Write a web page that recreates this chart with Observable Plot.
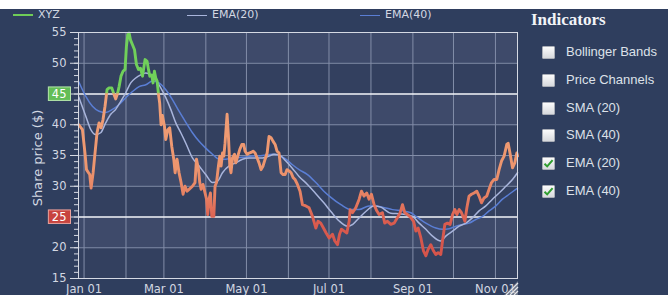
<!DOCTYPE html>
<html><head><meta charset="utf-8">
<script src="https://cdn.jsdelivr.net/npm/d3@7"></script>
<script src="https://cdn.jsdelivr.net/npm/@observablehq/plot@0.6"></script>
<style>
html,body{margin:0;padding:0;background:#ffffff;}
#wrap{position:relative;width:668px;height:295px;background:#2f3e5e;overflow:hidden;font-family:"DejaVu Sans",sans-serif;}
#topstrip{position:absolute;left:0;top:0;width:668px;height:9px;background:#ffffff;}
#chart{position:absolute;left:0;top:0;width:668px;height:295px;}
.leg{position:absolute;font-size:11px;line-height:12px;color:#d3d8e2;white-space:nowrap;}
.sw{position:absolute;height:0;}
#ytitle{position:absolute;left:37px;top:158px;transform:translate(-50%,-50%) rotate(-90deg);font-size:13px;color:#d3d8e2;white-space:nowrap;}
#panelTitle{position:absolute;left:531px;top:10px;font-family:"Liberation Serif",serif;font-weight:bold;font-size:17px;color:#f2f4f8;white-space:nowrap;}
.row{position:absolute;left:542px;height:14px;white-space:nowrap;}
.box{position:absolute;left:0;top:1px;width:11px;height:11px;background:linear-gradient(#fbfbfb,#d7d9dd);border:1px solid #a9adb6;border-radius:1px;}
.box svg{position:absolute;left:0;top:0;}
.lbl{position:absolute;left:24px;top:-1px;font-family:"Liberation Sans",Arial,sans-serif;font-size:13px;line-height:15px;color:#dde1e9;}
#grip{position:absolute;left:503px;top:280px;}
</style>
</head>
<body>
<div id="wrap">
  <div id="chart"></div>
  <div id="topstrip"></div>
  <div id="legend"></div>
  <div id="ytitle">Share price ($)</div>
  <div id="panelTitle">Indicators</div>
  <div id="panel"></div>
  <svg id="grip" width="16" height="16">
    <path d="M1,15 L15,1 L15,15 Z" fill="#9aa0ab" opacity="0.55"/>
    <line x1="3" y1="15" x2="15" y2="3" stroke="#e4e6ea" stroke-width="1.2"/>
    <line x1="7" y1="15" x2="15" y2="7" stroke="#e4e6ea" stroke-width="1.2"/>
    <line x1="11" y1="15" x2="15" y2="11" stroke="#e4e6ea" stroke-width="1.2"/>
  </svg>
</div>
<script>
// ---------- data (days counted from 2001-01-01) ----------
const priceDays = [-3.9,-1.2,0.7,1.8,3.3,4.2,5.2,6.7,8.1,9.6,
  11.1,12.6,14.0,15.5,17.0,18.5,20.5,22.2,23.4,24.9,
  25.9,27.3,28.8,30.3,31.3,32.3,33.3,34.3,35.8,37.3,
  38.7,40.2,41.7,43.2,44.1,45.1,46.6,47.6,48.6,50.0,
  51.0,52.0,53.0,54.0,55.0,55.9,56.9,57.9,59.4,60.4,
  61.9,63.3,64.8,66.3,67.3,68.7,70.2,71.7,73.2,74.6,
  76.1,77.6,80.1,82.0,83.1,84.6,85.5,86.5,87.9,89.4,
  90.5,91.4,92.4,93.4,94.4,95.9,96.8,97.9,99.3,100.3,
  101.3,102.3,103.3,104.2,105.7,106.7,107.7,108.6,109.7,111.2,
  112.1,113.6,115.1,116.6,118.0,119.0,120.5,122.0,123.4,124.9,
  126.4,127.9,129.3,130.8,132.3,133.8,135.3,136.7,138.2,139.7,
  141.2,142.6,144.1,145.6,147.1,148.6,150.0,151.5,153.0,154.5,
  155.9,157.7,159.6,161.4,163.9,166.3,168.8,171.3,172.9,174.9,
  176.9,178.9,181.1,183.6,185.3,187.3,188.8,190.2,192.2,194.2,
  195.9,196.6,198.4,200.8,203.3,205.0,206.9,208.9,210.6,212.4,
  214.3,216.3,218.0,220.5,222.2,224.2,226.7,229.1,231.6,233.6,
  235.3,237.0,239.0,241.5,243.5,245.2,246.9,248.9,250.8,252.6,
  254.2,256.2,258.2,259.9,261.6,263.6,264.9,266.6,268.6,270.5,
  272.3,274.0,275.5,277.2,278.9,280.4,281.4,282.9,284.5,286.3,
  288.2,290.2,291.9,293.7,295.6,297.6,299.3,301.1,303.0,305.0,
  306.7,308.5,310.4,312.4,313.4,314.9,316.6,318.3,319.8,320.3];
const priceValues = [40.0,39.2,35.4,32.7,32.2,31.9,29.7,32.2,35.4,38.7,
  40.3,39.5,40.8,43.0,45.7,46.0,46.0,44.9,44.2,45.2,
  46.2,47.9,48.7,49.0,52.7,54.6,54.9,53.8,53.0,52.2,
  49.8,49.0,49.2,47.9,49.2,50.6,50.3,49.0,47.9,48.1,
  46.8,48.7,47.6,47.1,45.0,43.5,40.0,41.5,39.8,37.6,
  39.2,39.5,36.5,34.4,32.2,34.4,32.2,30.6,28.7,30.0,
  29.2,29.5,30.0,30.6,34.4,32.7,30.6,29.5,30.3,28.9,
  27.9,25.4,27.9,28.9,25.1,25.1,30.0,30.6,33.3,34.9,
  33.3,35.4,34.9,37.0,41.7,38.1,33.3,32.2,34.6,35.2,
  33.8,34.9,36.0,36.8,36.8,35.7,35.2,35.4,35.5,35.7,
  35.4,34.6,33.8,32.7,33.3,34.4,35.4,38.1,37.9,37.3,
  36.8,35.7,35.4,32.2,31.9,31.9,32.7,32.5,32.2,31.4,
  31.1,30.3,29.2,27.0,26.8,26.5,25.1,23.2,24.3,24.0,
  23.2,22.4,21.6,22.2,21.1,20.5,22.2,23.0,22.7,22.4,
  24.3,26.2,25.7,26.5,27.9,29.2,28.4,28.9,27.9,28.7,
  27.0,26.0,25.4,25.7,24.0,24.3,23.8,24.0,24.9,25.7,
  27.0,25.7,25.4,24.9,24.3,22.7,23.2,21.6,19.5,18.7,
  19.7,20.5,19.5,18.9,19.2,18.9,21.1,23.8,24.0,23.8,
  25.4,26.2,25.4,26.2,25.7,24.9,24.3,26.5,28.4,28.7,
  28.9,29.2,28.4,27.3,28.1,28.4,29.5,30.6,31.1,31.1,
  32.7,34.1,34.9,36.8,37.0,35.2,33.0,33.8,35.4,34.9];

const ema20Days = [-3.9,1.3,5.0,8.6,12.3,16.0,19.7,23.4,27.1,30.8,
  34.5,38.2,41.9,45.6,49.3,53.0,56.7,60.4,64.1,67.8,
  71.5,75.2,80.1,85.0,89.9,94.9,98.6,102.3,107.2,112.1,
  117.1,122.0,126.9,131.9,136.7,140.4,144.1,149.1,154.0,158.9,
  165.1,171.3,177.2,182.4,188.3,194.7,198.6,203.0,208.2,214.1,
  219.3,226.7,234.1,242.7,247.6,252.6,257.5,263.6,267.3,272.3,
  277.2,282.2,287.1,291.9,296.9,301.8,306.7,311.7,316.6,320.3];
const ema20Values = [44.5,41.4,39.2,38.4,38.7,40.3,41.7,42.5,43.8,45.2,
  46.8,47.6,48.1,48.4,48.1,47.3,46.0,44.4,42.5,40.3,
  38.7,37.0,34.6,33.3,31.9,30.6,30.8,32.2,33.3,33.8,
  34.4,34.6,34.6,34.6,34.9,35.2,35.1,34.1,32.9,31.6,
  30.3,28.8,27.3,25.9,24.4,23.5,23.8,24.8,25.9,26.8,
  26.6,25.6,25.5,25.1,24.0,23.0,21.9,21.1,21.9,22.7,
  23.5,24.0,24.9,26.0,26.8,27.9,28.9,30.0,31.1,32.2];

const ema40Days = [-3.9,1.3,6.2,11.1,16.0,21.0,25.9,30.8,35.8,40.7,
  45.6,50.6,55.4,60.4,65.3,70.2,75.2,80.1,85.0,89.9,
  94.9,99.8,104.7,109.7,117.1,124.5,131.9,139.2,144.1,149.1,
  154.0,158.9,165.1,171.3,177.2,182.4,189.8,197.2,203.2,210.6,
  215.6,220.5,227.9,235.3,241.5,245.2,252.6,260.0,264.9,269.8,
  274.8,279.7,284.5,289.5,294.5,299.3,304.3,309.2,314.1,320.3];
const ema40Values = [47.0,44.6,43.0,42.2,42.0,42.5,43.3,44.4,45.4,46.2,
  46.5,47.1,46.8,45.7,44.1,42.2,40.4,38.7,37.3,36.2,
  35.2,34.4,34.4,34.6,34.7,34.9,35.0,35.2,35.0,34.4,
  33.5,32.7,31.9,30.6,29.2,28.2,27.0,26.2,26.2,26.8,
  26.8,26.6,26.2,26.0,25.7,25.1,24.0,23.2,23.0,23.1,
  23.5,23.8,24.0,24.6,25.1,26.0,26.8,27.9,28.7,29.7];

const xDomainDays = [-4.1, 320.3];
const monthStarts = ["2001-01-01","2001-02-01","2001-03-01","2001-04-01","2001-05-01","2001-06-01",
  "2001-07-01","2001-08-01","2001-09-01","2001-10-01","2001-11-01"];
const xTickMonths = ["2001-01-01","2001-03-01","2001-05-01","2001-07-01","2001-09-01","2001-11-01"];
const yDomain = [15, 55];
const yMajorTicks = [15,20,25,30,35,40,45,50,55];
const lightBands = [[20,25],[30,35],[40,45],[50,55]];
const darkBands = [[15,20],[25,30],[35,40],[45,50]];
const levelLines = [45, 25];
const levelColors = {45: ["#63bd57", "#b5e6ab"], 25: ["#c8443f", "#eba29d"]};
const priceColorStops = [[55,"#70d05a"],[45.3,"#70d05a"],[45.0,"#f0a077"],[33,"#ed956e"],[28.5,"#e68163"],[24,"#da5b4e"],[15,"#d24f49"]];
const seriesNames = ["XYZ", "EMA(20)", "EMA(40)"];
const seriesColors = ["#6fcc58", "#a9b5dc", "#5a7ed4"];
const indicators = ["Bollinger Bands","Price Channels","SMA (20)","SMA (40)","EMA (20)","EMA (40)"];
const indicatorChecked = [false,false,false,false,true,true];

// ---------- build ----------
const T0 = Date.UTC(2001, 0, 1);
const dayToDate = d => new Date(T0 + d * 864e5);
const toRows = (days, vals) => days.map((d, i) => ({date: dayToDate(d), value: vals[i]}));
const price = toRows(priceDays, priceValues);
const ema20 = toRows(ema20Days, ema20Values);
const ema40 = toRows(ema40Days, ema40Values);
const xStart = dayToDate(xDomainDays[0]), xEnd = dayToDate(xDomainDays[1]);
const yMinorTicks = d3.range(yDomain[0], yDomain[1] + 1, 1);

const chart = Plot.plot({
  width: 668, height: 295,
  marginLeft: 78, marginRight: 151, marginTop: 32, marginBottom: 17,
  style: {background: "transparent", color: "#d3d8e2", fontFamily: "'DejaVu Sans', sans-serif", fontSize: "11.5px", overflow: "visible"},
  x: {type: "utc", domain: [xStart, xEnd], axis: null},
  y: {domain: yDomain, axis: null},
  marks: [
    Plot.rect(darkBands, {x1: () => xStart, x2: () => xEnd, y1: d => d[0], y2: d => d[1], fill: "#33405f"}),
    Plot.rect(lightBands, {x1: () => xStart, x2: () => xEnd, y1: d => d[0], y2: d => d[1], fill: "#3e4a6a"}),
    Plot.ruleX(monthStarts.map(s => new Date(s)), {stroke: "#828da8", strokeWidth: 1}),
    Plot.ruleY(yMajorTicks.filter(v => !levelLines.includes(v)), {stroke: "#828da8", strokeWidth: 1}),
    Plot.ruleY(levelLines, {stroke: "#f3f5f9", strokeWidth: 1.5}),
    Plot.line(ema40, {x: "date", y: "value", stroke: seriesColors[2], strokeWidth: 1.5, curve: "monotone-x"}),
    Plot.line(ema20, {x: "date", y: "value", stroke: seriesColors[1], strokeWidth: 1.5, curve: "monotone-x"}),
    Plot.line(price, {x: "date", y: "value", stroke: "url(#priceGrad)", strokeWidth: 2.9, strokeLinejoin: "round"}),
    Plot.frame({stroke: "#d5d9e3"}),
    Plot.axisY(yMinorTicks, {tickSize: 4, tickFormat: () => "", stroke: "#d5d9e3", label: null}),
    Plot.axisY(yMajorTicks, {tickSize: 8, tickPadding: 4, stroke: "#d5d9e3", fill: "#d3d8e2", label: null}),
    Plot.axisX(xTickMonths.map(s => new Date(s)), {tickSize: 0, tickPadding: 6, tickFormat: d3.utcFormat("%b %d"), fill: "#d3d8e2", label: null})
  ]
});
document.getElementById("chart").append(chart);

// gradient for the price line, positioned with the y scale
const ns = "http://www.w3.org/2000/svg";
const ys = chart.scale("y");
const yTop = ys.apply(yDomain[1]), yBot = ys.apply(yDomain[0]);
const defs = document.createElementNS(ns, "defs");
const grad = document.createElementNS(ns, "linearGradient");
grad.setAttribute("id", "priceGrad");
grad.setAttribute("gradientUnits", "userSpaceOnUse");
grad.setAttribute("x1", 0); grad.setAttribute("x2", 0);
grad.setAttribute("y1", yTop); grad.setAttribute("y2", yBot);
for (const [v, c] of priceColorStops) {
  const s = document.createElementNS(ns, "stop");
  s.setAttribute("offset", (ys.apply(v) - yTop) / (yBot - yTop));
  s.setAttribute("stop-color", c);
  grad.appendChild(s);
}
defs.appendChild(grad);
chart.insertBefore(defs, chart.firstChild);

// boxed labels for the two level lines
chart.querySelectorAll('g[aria-label="y-axis tick label"] text').forEach(t => {
  const v = +t.textContent;
  if (t.textContent && levelColors[v]) {
    const b = t.getBBox();
    const r = document.createElementNS(ns, "rect");
    r.setAttribute("x", b.x - 3.5);
    r.setAttribute("y", b.y + b.height / 2 - 6.75);
    r.setAttribute("width", b.width + 7.5);
    r.setAttribute("height", 13.5);
    if (t.getAttribute("transform")) r.setAttribute("transform", t.getAttribute("transform"));
    r.setAttribute("fill", levelColors[v][0]);
    r.setAttribute("stroke", levelColors[v][1]);
    r.setAttribute("stroke-width", 1);
    t.parentNode.insertBefore(r, t);
    t.setAttribute("fill", "#ffffff");
  }
});

// top legend
const legend = document.getElementById("legend");
const legendX = [13, 187, 360];
seriesNames.forEach((name, i) => {
  const sw = document.createElement("div");
  sw.className = "sw";
  sw.style.left = legendX[i] + "px";
  sw.style.top = (i === 0 ? 14 : 14.5) + "px";
  sw.style.width = "20px";
  sw.style.borderTop = (i === 0 ? 2.5 : 1.5) + "px solid " + seriesColors[i];
  legend.appendChild(sw);
  const tx = document.createElement("div");
  tx.className = "leg";
  tx.style.left = (legendX[i] + 25) + "px";
  tx.style.top = "9px";
  tx.textContent = name;
  legend.appendChild(tx);
});

// indicator panel
const panel = document.getElementById("panel");
const rowTop = [45, 73, 100.5, 128, 156, 183.5];
indicators.forEach((name, i) => {
  const row = document.createElement("div");
  row.className = "row";
  row.style.top = rowTop[i] + "px";
  const box = document.createElement("div");
  box.className = "box";
  if (indicatorChecked[i]) {
    box.innerHTML = '<svg width="11" height="11"><path d="M1.5,5.8 L4.2,8.4 L9.6,2.2" fill="none" stroke="#2f9d2f" stroke-width="2"/></svg>';
  }
  row.appendChild(box);
  const lb = document.createElement("div");
  lb.className = "lbl";
  lb.textContent = name;
  row.appendChild(lb);
  panel.appendChild(row);
});
</script>
</body></html>
